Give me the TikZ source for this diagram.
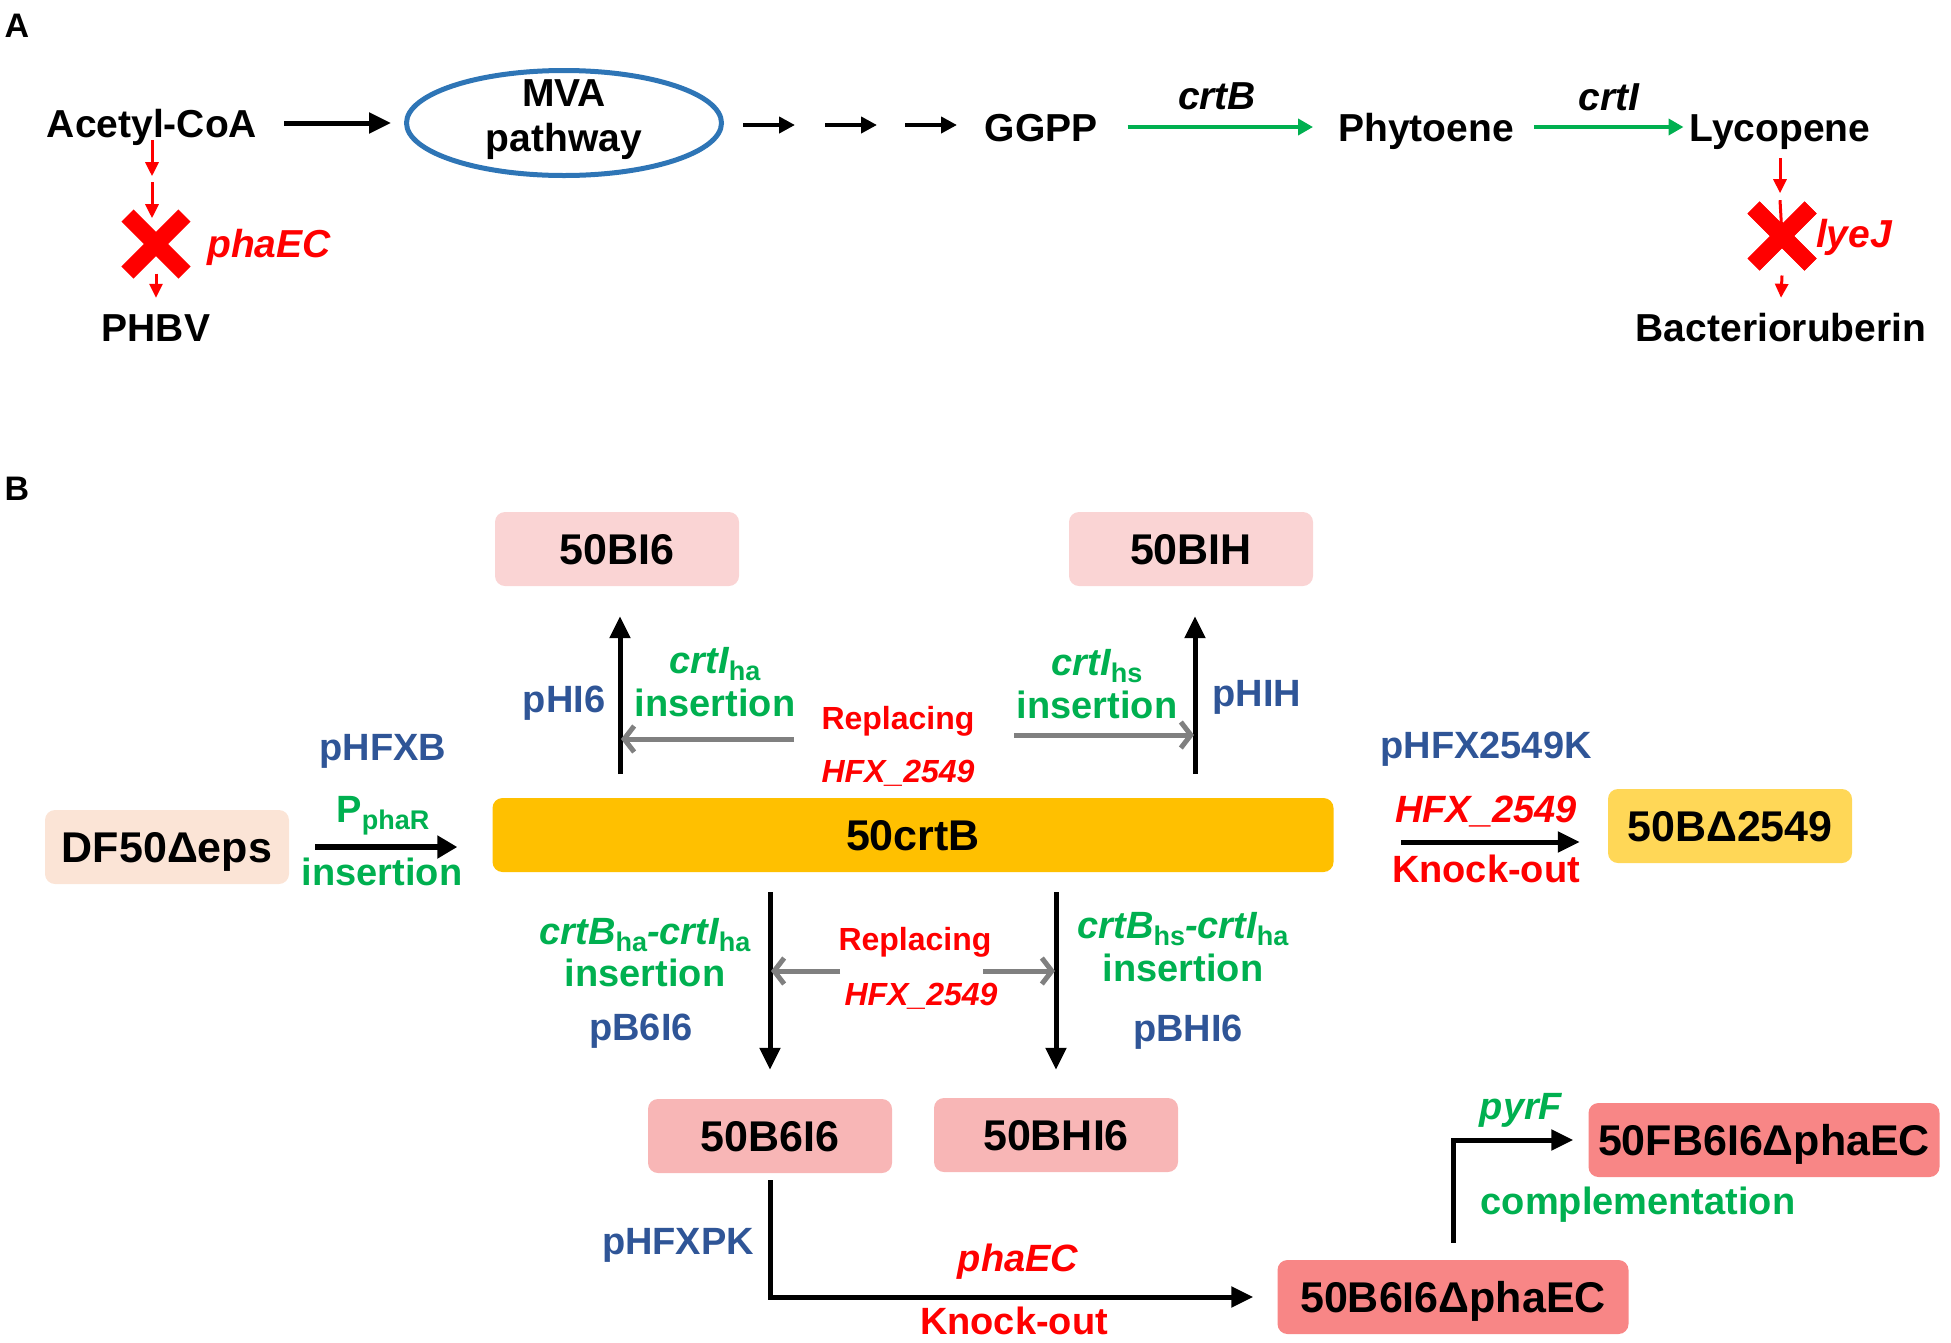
\documentclass[tikz,border=0pt]{standalone}
\usepackage{fontspec}
\setmainfont{Liberation Sans}
\usetikzlibrary{shapes.geometric, shapes.misc, arrows.meta}

\definecolor{hfblue}{HTML}{2F5597}
\definecolor{hfgreen}{HTML}{00B050}
\definecolor{hfred}{HTML}{FF0000}
\definecolor{hfgray}{HTML}{808080}
\definecolor{ringblue}{HTML}{2E75B6}
\definecolor{pinklight}{HTML}{FAD4D4}
\definecolor{pinkmid}{HTML}{F8B6B6}
\definecolor{salmon}{HTML}{F88686}
\definecolor{peach}{HTML}{FBE4D6}
\definecolor{gold}{HTML}{FFC000}
\definecolor{goldlight}{HTML}{FFD757}

\newcommand{\lowtxt}[1]{\raisebox{-7pt}{\fontsize{27}{30}\selectfont\upshape #1}}

\begin{document}
\begin{tikzpicture}[x=1pt, y=-1pt,
    every node/.style={inner sep=0pt},
    txtA/.style={font=\fontsize{39}{46}\selectfont\bfseries, text height=28pt, text depth=0pt},
    lab/.style={font=\fontsize{38}{44}\selectfont\bfseries, text height=27pt, text depth=0pt},
    labsm/.style={font=\fontsize{32}{38}\selectfont\bfseries, text height=23pt, text depth=0pt, text=hfred},
    vec/.style={lab, text=hfblue},
    ins/.style={lab, text=hfgreen},
    ko/.style={lab, text=hfred},
    strain/.style={rounded corners=10pt, minimum width=244pt, minimum height=74pt,
        font=\fontsize{43}{50}\selectfont\bfseries, text height=31pt, text depth=0pt},
    knock/.style={cross out, draw=hfred, line width=17pt, minimum size=40pt},
    blk/.style={line width=5pt, -{Triangle[length=22pt, width=20pt]}},
    blksm/.style={line width=4pt, -{Triangle[length=16pt, width=16pt]}},
    grn/.style={draw=hfgreen, line width=4pt, -{Triangle[length=15pt, width=16pt]}},
    redarr/.style={draw=hfred, line width=3pt, -{Triangle[length=14pt, width=13pt]}},
    gry/.style={draw=hfgray, line width=5pt, -{Straight Barb[length=10pt, width=26pt]}}
]
\useasboundingbox (0,0) rectangle (1951,1342);

% ---- panel A
\node[font=\fontsize{34}{40}\selectfont\bfseries, text height=24pt, text depth=0pt] (panelA) at (17,25) {A};
\node[txtA] (acetyl) at (152,123) {Acetyl-CoA};
\node[ellipse, draw=ringblue, line width=5pt, minimum width=315pt, minimum height=105pt] (mva) at (564,123) {};
\node[txtA] (mvaA) at (564,92) {MVA};
\node[txtA] (mvaB) at (564,137) {pathway};
\node[txtA] (ggpp) at (1041,127) {GGPP};
\node[txtA] (phyto) at (1426,127) {Phytoene};
\node[txtA] (lyco) at (1780,127) {Lycopene};
\node[txtA] (crtBg) at (1217,95) {\itshape crtB};
\node[txtA] (crtIg) at (1609,96) {\itshape crtI};
\node[txtA] (phbv) at (156,327) {PHBV};
\node[txtA] (bacter) at (1781,327) {Bacterioruberin};
\node[txtA, text=hfred] (phaECa) at (269,243) {\itshape phaEC};
\node[txtA, text=hfred] (lyeJ) at (1854,233) {\itshape lyeJ};

\draw[blk] ([xshift=27pt]acetyl.east) -- ([xshift=-13pt]mva.west);
\foreach \xa in {743,825,905}
    \draw[blksm] (\xa,125) -- ++(52,0);
\draw[grn] ([xshift=30pt]ggpp.east) -- ([xshift=-25pt]phyto.west);
\draw[grn] ([xshift=20pt]phyto.east) -- ([xshift=-6pt]lyco.west);

\node[knock] (xL) at (156,244) {};
\node[knock] (xR) at (1782,236) {};
\draw[redarr] ([yshift=-3pt]acetyl.south) -- ++(0,36);
\draw[redarr] ([yshift=-45pt]acetyl.south) -- ++(0,36);
\draw[redarr] ([yshift=-1pt]xL.south) -- ([yshift=15pt]phbv.north);
\draw[redarr] ([yshift=-17pt]lyco.south) -- ++(0,35);
\draw[draw=hfred, line width=3pt] ([yshift=-59pt]lyco.south) -- (xR.center);
\node[knock] at (xR) {};
\draw[redarr] ([yshift=-11pt]xR.south) -- ([yshift=15pt]bacter.north);

% ---- panel B
\node[font=\fontsize{34}{40}\selectfont\bfseries, text height=24pt, text depth=0pt] (panelB) at (17,488) {B};
\node[strain, fill=pinklight] (bi6) at (617,549) {50BI6};
\node[strain, fill=pinklight] (bih) at (1191,549) {50BIH};
\node[strain, fill=gold, minimum width=841pt] (crtbar) at (913,835) {50crtB};
\node[strain, fill=peach] (df50) at (167,847) {DF50Δeps};
\node[strain, fill=goldlight] (bd2549) at (1730,826) {50BΔ2549};
\node[strain, fill=pinkmid] (b6i6) at (770,1136) {50B6I6};
\node[strain, fill=pinkmid] (bhi6) at (1056,1135) {50BHI6};
\node[strain, fill=salmon, minimum width=351pt] (b6i6pha) at (1453,1297) {50B6I6ΔphaEC};
\node[strain, fill=salmon, minimum width=351pt] (fb6i6pha) at (1764,1140) {50FB6I6ΔphaEC};

% upper branch
\node[vec] (phi6) at (564,699) {pHI6};
\node[ins] (crtIha) at (715,660) {\itshape crtI\lowtxt{ha}};
\node[ins] (insA) at (715,703) {insertion};
\node[labsm] (replU) at (898,718) {Replacing};
\node[labsm] (hfxU) at (898,771) {\itshape HFX\_2549};
\node[ins] (crtIhs) at (1097,662) {\itshape crtI\lowtxt{hs}};
\node[ins] (insB) at (1097,705) {insertion};
\node[vec] (phih) at (1257,693) {pHIH};

\coordinate (upL) at (620,774);
\coordinate (upR) at (1195,774);
\coordinate (gL1) at (794,739);
\coordinate (gR1) at (1014,735);
\draw[blk, shorten >=30pt] (upL) -- (upL |- bi6.south);
\draw[blk, shorten >=30pt] (upR) -- (upR |- bih.south);
\draw[gry, shorten >=1pt] (gL1) -- (gL1 -| upL);
\draw[gry, shorten >=1pt] (gR1) -- (gR1 -| upR);

% left and right of the bar
\node[vec] (phfxb) at (383,747) {pHFXB};
\node[ins] (pphar) at (383,809) {P\lowtxt{phaR}};
\node[ins] (insC) at (382,872) {insertion};
\draw[line width=6pt, -{Triangle[length=20pt, width=22pt]}, shorten <=26pt, shorten >=35pt]
    (df50.east) -- (df50.east -| crtbar.west);

\node[vec] (phfx2549k) at (1486,745) {pHFX2549K};
\node[ko] (hfxR) at (1486,809) {\itshape HFX\_2549};
\node[ko] (koR) at (1486,869) {Knock-out};
\coordinate (koStart) at (1401,842);
\draw[blk, shorten >=28pt] (koStart) -- (koStart -| bd2549.west);

% lower branch
\node[ins] (crtBha) at (645,931) {\itshape crtB\lowtxt{ha}-crtI\lowtxt{ha}};
\node[ins] (insD) at (645,973) {insertion};
\node[vec] (pb6i6) at (641,1027) {pB6I6};
\node[labsm] (replD) at (915,939) {Replacing};
\node[labsm] (hfxD) at (921,994) {\itshape HFX\_2549};
\node[ins] (crtBhs) at (1183,925) {\itshape crtB\lowtxt{hs}-crtI\lowtxt{ha}};
\node[ins] (insE) at (1183,968) {insertion};
\node[vec] (pbhi6) at (1188,1028) {pBHI6};

\coordinate (dnL) at (770,892);
\coordinate (dnR) at (1056,892);
\coordinate (gL2) at (840,971);
\coordinate (gR2) at (983,971);
\draw[blk, shorten >=29pt] (dnL) -- (dnL |- b6i6.north);
\draw[blk, shorten >=28pt] (dnR) -- (dnR |- bhi6.north);
\draw[gry, shorten >=1pt] (gL2) -- (gL2 -| dnL);
\draw[gry, shorten >=1pt] (gR2) -- (gR2 -| dnR);

% knock-out and complementation
\node[vec] (phfxpk) at (678,1241) {pHFXPK};
\node[ko] (phaECb) at (1018,1258) {\itshape phaEC};
\node[ko] (koD) at (1014,1321) {Knock-out};
\draw[blk, shorten >=24pt] ([yshift=-7pt]b6i6.south) |- (b6i6pha.west);

\node[ins] (pyrF) at (1521,1106) {\itshape pyrF};
\node[ins] (compl) at (1638,1201) {complementation};
\draw[blk, shorten >=15pt] ([yshift=17pt]b6i6pha.north) |- (fb6i6pha.west);
\end{tikzpicture}
\end{document}
